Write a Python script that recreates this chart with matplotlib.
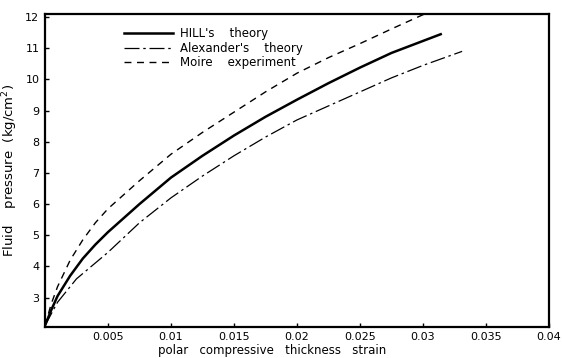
import matplotlib
matplotlib.use("Agg")
import matplotlib.pyplot as plt

# values
hill_strain = [0.0, 0.0005, 0.001, 0.002, 0.003, 0.004, 0.005, 0.0075, 0.01, 0.0125,
               0.015, 0.0175, 0.02, 0.0225, 0.025, 0.0275, 0.0314]
hill_pressure = [2.1, 2.6, 3.05, 3.7, 4.25, 4.7, 5.1, 6.0, 6.85, 7.55,
                 8.2, 8.8, 9.35, 9.88, 10.38, 10.85, 11.45]

alex_strain = [0.0, 0.001, 0.0025, 0.005, 0.0075, 0.01, 0.0125, 0.015, 0.0175,
               0.02, 0.0225, 0.025, 0.0275, 0.03, 0.0331]
alex_pressure = [2.1, 2.85, 3.6, 4.45, 5.4, 6.2, 6.9, 7.55, 8.15,
                 8.7, 9.15, 9.6, 10.05, 10.45, 10.9]

moire_strain = [0.0, 0.0005, 0.001, 0.002, 0.003, 0.004, 0.005, 0.0075, 0.01, 0.0125,
                0.015, 0.0175, 0.02, 0.0225, 0.025, 0.0275, 0.0304]
moire_pressure = [2.1, 2.8, 3.35, 4.2, 4.85, 5.4, 5.85, 6.75, 7.6, 8.3,
                  8.95, 9.6, 10.2, 10.7, 11.15, 11.62, 12.15]

x_ticks = [0.005, 0.01, 0.015, 0.02, 0.025, 0.03, 0.035, 0.04]
x_tick_labels = ["0.005", "0.01", "0.015", "0.02", "0.025", "0.03", "0.035", "0.04"]
y_ticks = [3, 4, 5, 6, 7, 8, 9, 10, 11, 12]

fig = plt.figure(figsize=(5.62, 3.58), dpi=100)
ax = fig.add_axes([0.080, 0.087, 0.897, 0.874])

ax.plot(hill_strain, hill_pressure, color="black", lw=1.8, label="HILL's    theory")
ax.plot(alex_strain, alex_pressure, color="black", lw=0.9, linestyle=(0, (12, 3, 2, 3)),
        label="Alexander's    theory")
ax.plot(moire_strain, moire_pressure, color="black", lw=1.0, linestyle=(0, (5, 4)),
        label="Moire    experiment")

ax.set_xlim(0, 0.04)
ax.set_ylim(2.06, 12.1)
ax.set_xticks(x_ticks)
ax.set_xticklabels(x_tick_labels)
ax.set_yticks(y_ticks)
ax.tick_params(direction="in", length=3, width=1, labelsize=8, pad=4)

for s in ax.spines.values():
    s.set_linewidth(1.6)

ax.set_xlabel("polar   compressive   thickness   strain", fontsize=8.5, labelpad=1)
ax.xaxis.set_label_coords(0.45, -0.055)
ax.set_ylabel("Fluid    pressure  (kg/cm$^2$)", fontsize=9.5, labelpad=4)

ax.legend(loc="upper left", bbox_to_anchor=(0.14, 0.985), frameon=False, fontsize=8.5,
          handlelength=4.2, handletextpad=0.6, labelspacing=0.15, borderpad=0.2)

fig.savefig("out.png", dpi=100)
